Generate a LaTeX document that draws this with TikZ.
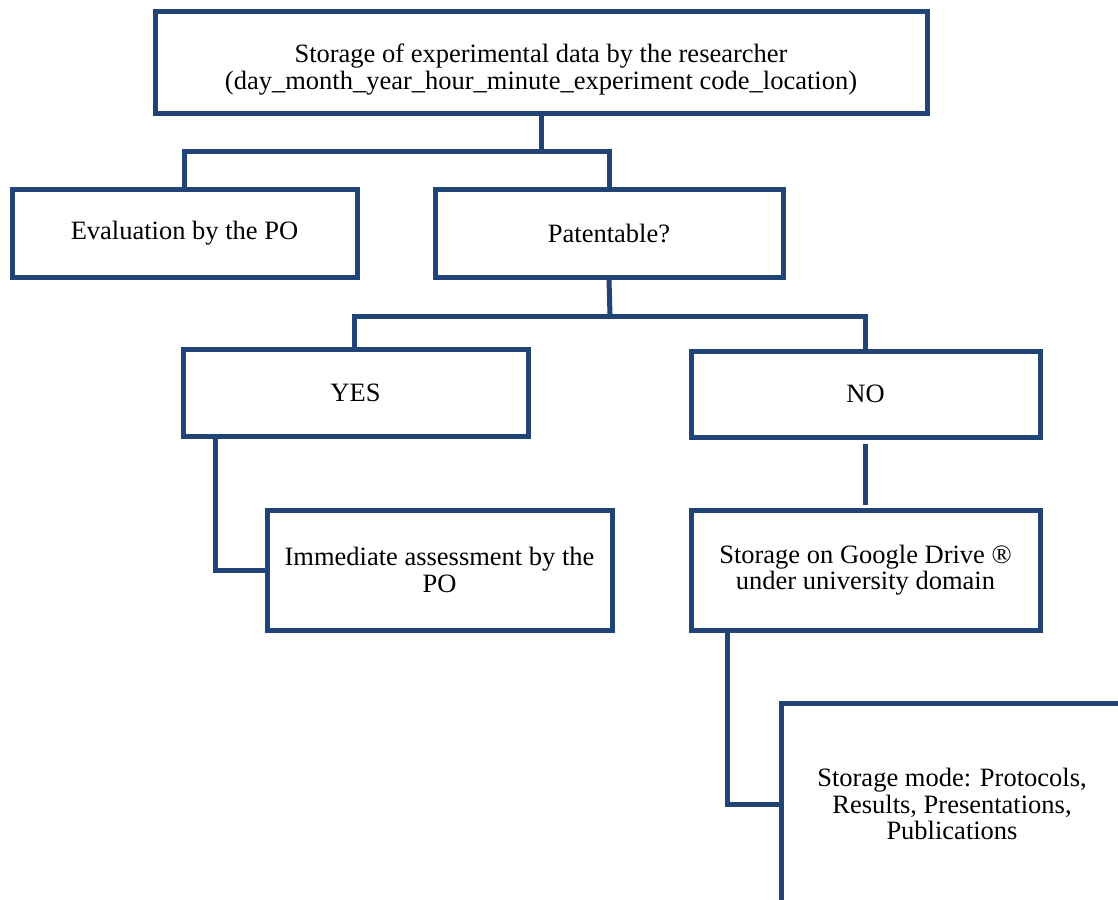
\documentclass[tikz,border=0pt]{standalone}
\usepackage{fontspec}
\setmainfont{Liberation Serif}
\definecolor{boxblue}{RGB}{32,68,118}
\tikzset{
  box/.style={draw=boxblue, line width=5pt, align=center, inner sep=0pt,
    font=\fontsize{26.5}{26.5}\selectfont, text=black},
  link/.style={draw=boxblue, line width=5pt}
}
\begin{document}
\begin{tikzpicture}[x=1pt,y=-1pt]
\useasboundingbox (0,0) rectangle (1118,899);
\clip (0,0) rectangle (1118,899);
% boxes
\node[box, minimum width=772pt, minimum height=101pt] (top) at (541,62.5)
  {\rule{0pt}{33pt}Storage of experimental data by the researcher\\(day\_month\_year\_hour\_minute\_experiment code\_location)};
\node[box, minimum width=345pt, minimum height=88pt] (eval) at (184.5,233) {Evaluation by the PO};
\node[box, minimum width=348pt, minimum height=88pt] (pat) at (609,233) {Patentable?};
\node[box, minimum width=345pt, minimum height=87pt] (yes) at (355.5,392.5) {YES};
\node[box, minimum width=349pt, minimum height=86pt] (no) at (865.5,394) {NO};
\node[box, minimum width=345pt, minimum height=120pt] (imm) at (439.5,570) {Immediate assessment by the\\PO};
\node[box, minimum width=349pt, minimum height=120pt] (gd) at (865.5,570) {Storage on Google Drive ®\\under university domain};
\node[box, minimum width=342pt, minimum height=202pt] (mode) at (952,804) {Storage mode: Protocols,\\Results, Presentations,\\Publications};
% connectors
\coordinate (j1) at (541,151);
\coordinate (j2) at (610,316);
\draw[link] (top.south) -- (j1);
\draw[link] (eval.north) |- (j1) -| (pat.north);
\draw[link] (pat.south) -- (j2);
\draw[link] (yes.north -| 354,0) |- (j2) -| (no.north);
\draw[link] (yes.south -| 215,0) |- (imm.west);
\draw[link] ([yshift=-4pt]no.south) -- ([yshift=3pt]gd.north);
\draw[link] (gd.south -| 727,0) |- (mode.west);
\end{tikzpicture}
\end{document}
